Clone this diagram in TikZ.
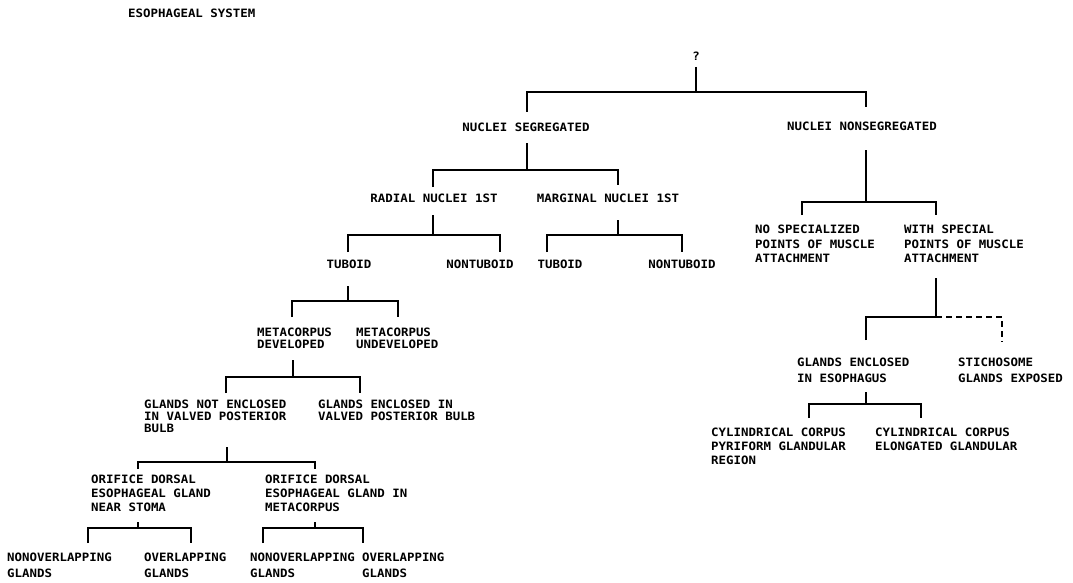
\documentclass[tikz,border=0pt]{standalone}
\usepackage{fontspec}
\newfontfamily\labfam[FakeStretch=1.08]{DejaVu Sans Mono}
\newcommand\labfont{\labfam\bfseries\fontsize{11.5}{13}\selectfont}
\newcommand\brk[4]{%
  \draw[ln] (#1) -- (#2);
  \draw[ln] (#3) |- (#2) -| (#4);}
\tikzset{
  ln/.style={line width=1.5pt, line join=miter},
  dln/.style={line width=1.5pt, dash pattern=on 6pt off 4pt},
  lab/.style={font=\labfont, inner sep=0pt, align=left, anchor=north west},
  labc/.style={font=\labfont, inner sep=0pt, anchor=north},
}
\begin{document}
\begin{tikzpicture}[x=1pt,y=-1pt]
\useasboundingbox (0,0) rectangle (1073,583);
% ---------- text nodes ----------
\node[lab] (title) at (128,9) {ESOPHAGEAL SYSTEM};
\node[labc] (q) at (696,52) {?};
\node[labc] (seg) at (526,123) {NUCLEI SEGREGATED};
\node[labc] (nonseg) at (862,122) {NUCLEI NONSEGREGATED};
\node[labc] (radial) at (434,194) {RADIAL NUCLEI 1ST};
\node[labc] (marginal) at (608,194) {MARGINAL NUCLEI 1ST};
\node[labc] (tub1) at (349,260) {TUBOID};
\node[labc] (nontub1) at (480,260) {NONTUBOID};
\node[labc] (tub2) at (560,260) {TUBOID};
\node[labc] (nontub2) at (682,260) {NONTUBOID};
\node[lab, font=\labfont\fontsize{11.5}{12}\selectfont] (metadev) at (257,328) {METACORPUS\\DEVELOPED};
\node[lab, font=\labfont\fontsize{11.5}{12}\selectfont] (metaundev) at (356,328) {METACORPUS\\UNDEVELOPED};
\node[lab, font=\labfont\fontsize{11.5}{12}\selectfont] (gne) at (144,400) {GLANDS NOT ENCLOSED\\IN VALVED POSTERIOR\\BULB};
\node[lab, font=\labfont\fontsize{11.5}{12}\selectfont] (ge) at (318,400) {GLANDS ENCLOSED IN\\VALVED POSTERIOR BULB};
\node[lab, font=\labfont\fontsize{11.5}{14}\selectfont] (ori1) at (91,475) {ORIFICE DORSAL\\ESOPHAGEAL GLAND\\NEAR STOMA};
\node[lab, font=\labfont\fontsize{11.5}{14}\selectfont] (ori2) at (265,475) {ORIFICE DORSAL\\ESOPHAGEAL GLAND IN\\METACORPUS};
\node[lab, font=\labfont\fontsize{11.5}{16}\selectfont] (nonov1) at (7,553) {NONOVERLAPPING\\GLANDS};
\node[lab, font=\labfont\fontsize{11.5}{16}\selectfont] (ov1) at (144,553) {OVERLAPPING\\GLANDS};
\node[lab, font=\labfont\fontsize{11.5}{16}\selectfont] (nonov2) at (250,553) {NONOVERLAPPING\\GLANDS};
\node[lab, font=\labfont\fontsize{11.5}{16}\selectfont] (ov2) at (362,553) {OVERLAPPING\\GLANDS};
\node[lab, font=\labfont\fontsize{11.5}{14.5}\selectfont] (nospec) at (755,225) {NO SPECIALIZED\\POINTS OF MUSCLE\\ATTACHMENT};
\node[lab, font=\labfont\fontsize{11.5}{14.5}\selectfont] (withspec) at (904,225) {WITH SPECIAL\\POINTS OF MUSCLE\\ATTACHMENT};
\node[lab, font=\labfont\fontsize{11.5}{16}\selectfont] (ge2) at (797,358) {GLANDS ENCLOSED\\IN ESOPHAGUS};
\node[lab, font=\labfont\fontsize{11.5}{16}\selectfont] (stich) at (958,358) {STICHOSOME\\GLANDS EXPOSED};
\node[lab, font=\labfont\fontsize{11.5}{14}\selectfont] (cyl1) at (711,428) {CYLINDRICAL CORPUS\\PYRIFORM GLANDULAR\\REGION};
\node[lab, font=\labfont\fontsize{11.5}{14}\selectfont] (cyl2) at (875,428) {CYLINDRICAL CORPUS\\ELONGATED GLANDULAR};
% ---------- junction coordinates ----------
\coordinate (q-s) at (696,67);   \coordinate (q-j) at (696,92);
\coordinate (seg-n) at (527,112); \coordinate (nonseg-n) at (866,107);
\coordinate (seg-s) at (527,143); \coordinate (seg-j) at (527,170);
\coordinate (radial-n) at (433,187); \coordinate (marginal-n) at (618,185);
\coordinate (radial-s) at (433,215); \coordinate (radial-j) at (433,235);
\coordinate (tub1-n) at (348,252); \coordinate (nontub1-n) at (500,252);
\coordinate (marginal-s) at (618,220); \coordinate (marginal-j) at (618,235);
\coordinate (tub2-n) at (547,252); \coordinate (nontub2-n) at (682,252);
\coordinate (tub1-s) at (348,286); \coordinate (tub1-j) at (348,301);
\coordinate (metadev-n) at (292,317); \coordinate (metaundev-n) at (398,317);
\coordinate (metadev-s) at (293,360); \coordinate (metadev-j) at (293,377);
\coordinate (gne-n) at (226,393); \coordinate (ge-n) at (360,393);
\coordinate (gne-s) at (227,447); \coordinate (gne-j) at (227,462);
\coordinate (ori1-n) at (138,469); \coordinate (ori2-n) at (315,469);
\coordinate (ori1-s) at (138,522); \coordinate (ori1-j) at (138,528);
\coordinate (nonov1-n) at (88,543); \coordinate (ov1-n) at (191,543);
\coordinate (ori2-s) at (315,522); \coordinate (ori2-j) at (315,528);
\coordinate (nonov2-n) at (263,543); \coordinate (ov2-n) at (363,543);
\coordinate (nonseg-s) at (866,150); \coordinate (nonseg-j) at (866,202);
\coordinate (nospec-n) at (802,215); \coordinate (withspec-n) at (936,215);
\coordinate (withspec-s) at (936,278); \coordinate (withspec-j) at (936,317);
\coordinate (ge2-n) at (866,340); \coordinate (stich-n) at (1002,342);
\coordinate (ge2-s) at (866,392); \coordinate (ge2-j) at (866,404);
\coordinate (cyl1-n) at (809,418); \coordinate (cyl2-n) at (921,418);
% ---------- connectors ----------
\brk{q-s}{q-j}{seg-n}{nonseg-n}
\brk{seg-s}{seg-j}{radial-n}{marginal-n}
\brk{radial-s}{radial-j}{tub1-n}{nontub1-n}
\brk{marginal-s}{marginal-j}{tub2-n}{nontub2-n}
\brk{tub1-s}{tub1-j}{metadev-n}{metaundev-n}
\brk{metadev-s}{metadev-j}{gne-n}{ge-n}
\brk{gne-s}{gne-j}{ori1-n}{ori2-n}
\brk{ori1-s}{ori1-j}{nonov1-n}{ov1-n}
\brk{ori2-s}{ori2-j}{nonov2-n}{ov2-n}
\brk{nonseg-s}{nonseg-j}{nospec-n}{withspec-n}
\draw[ln] (withspec-s) -- (withspec-j);
\draw[ln] (ge2-n) |- (withspec-j);
\draw[dln] (withspec-j) -| (stich-n);
\brk{ge2-s}{ge2-j}{cyl1-n}{cyl2-n}
\end{tikzpicture}
\end{document}
